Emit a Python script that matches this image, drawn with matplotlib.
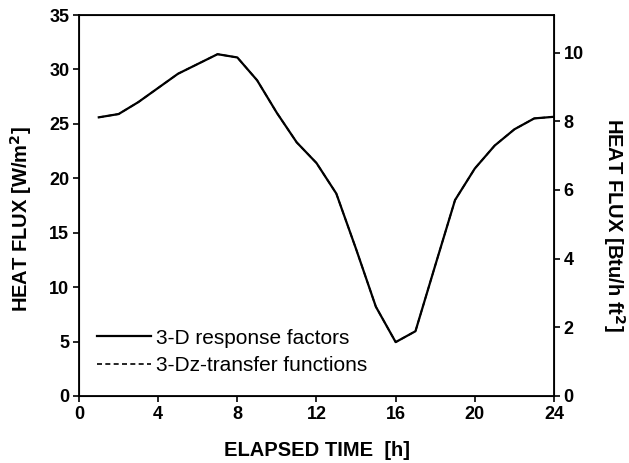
import matplotlib
matplotlib.use("Agg")
import matplotlib.pyplot as plt

hours = [1, 2, 3, 4, 5, 6, 7, 8, 9, 10, 11, 12, 13, 14, 15, 16, 17, 18, 19, 20, 21, 22, 23, 24]
flux_rf = [25.6, 25.9, 27.0, 28.3, 29.6, 30.5, 31.4, 31.1, 29.0, 26.0, 23.3, 21.4, 18.6, 13.5, 8.2,
           4.95, 5.95, 12.0, 18.0, 20.9, 23.0, 24.5, 25.5, 25.65]
flux_tf = list(flux_rf)

x_ticks = [0, 4, 8, 12, 16, 20, 24]
y_ticks = [0, 5, 10, 15, 20, 25, 30, 35]
y2_ticks = [0, 2, 4, 6, 8, 10]
conv = 3.1546

plt.rcParams['font.family'] = ['Liberation Sans', 'DejaVu Sans']

fig = plt.figure(figsize=(6.29, 4.63), dpi=100)
ax = fig.add_axes([79/629, 67/463, 475/629, 381/463])
ax.plot(hours, flux_rf, color='black', lw=1.6, label='3-D response factors')
ax.plot(hours, flux_tf, color='black', lw=1.2, ls=(0, (3, 2)), label='3-Dz-transfer functions')
ax.set_xlim(0, 24)
ax.set_ylim(0, 35)
ax.set_xticks(x_ticks)
ax.set_yticks(y_ticks)
ax.tick_params(axis='both', direction='out', length=4.5, width=1.2, labelsize=13, pad=2.5)
for lab in ax.get_xticklabels() + ax.get_yticklabels():
    lab.set_fontweight('bold')
for s in ax.spines.values():
    s.set_linewidth(1.3)
ax.set_xlabel('ELAPSED TIME  [h]', fontsize=14.5, fontweight='bold', labelpad=13)
ax.set_ylabel('HEAT FLUX [W/m$^\\mathbf{2}$]', fontsize=14.5, fontweight='bold', labelpad=11)
ax.yaxis.label.set_y(0.465)

ax2 = ax.twinx()
ax2.set_ylim(0, 35 / conv)
ax2.set_yticks(y2_ticks)
ax2.tick_params(axis='y', direction='out', length=4.5, width=1.2, labelsize=13, pad=2.5)
for lab in ax2.get_yticklabels():
    lab.set_fontweight('bold')
ax2.set_ylabel('HEAT FLUX [Btu/h ft$^\\mathbf{2}$]', fontsize=14.5, fontweight='bold',
               rotation=270, labelpad=31)
ax2.yaxis.label.set_y(0.449)

leg = ax.legend(loc='upper left', bbox_to_anchor=(0.038, 0.177), frameon=False, fontsize=15,
                borderpad=0, borderaxespad=0,
                handlelength=2.6, handletextpad=0.25, labelspacing=0.4)

fig.savefig('out.png', dpi=100)
